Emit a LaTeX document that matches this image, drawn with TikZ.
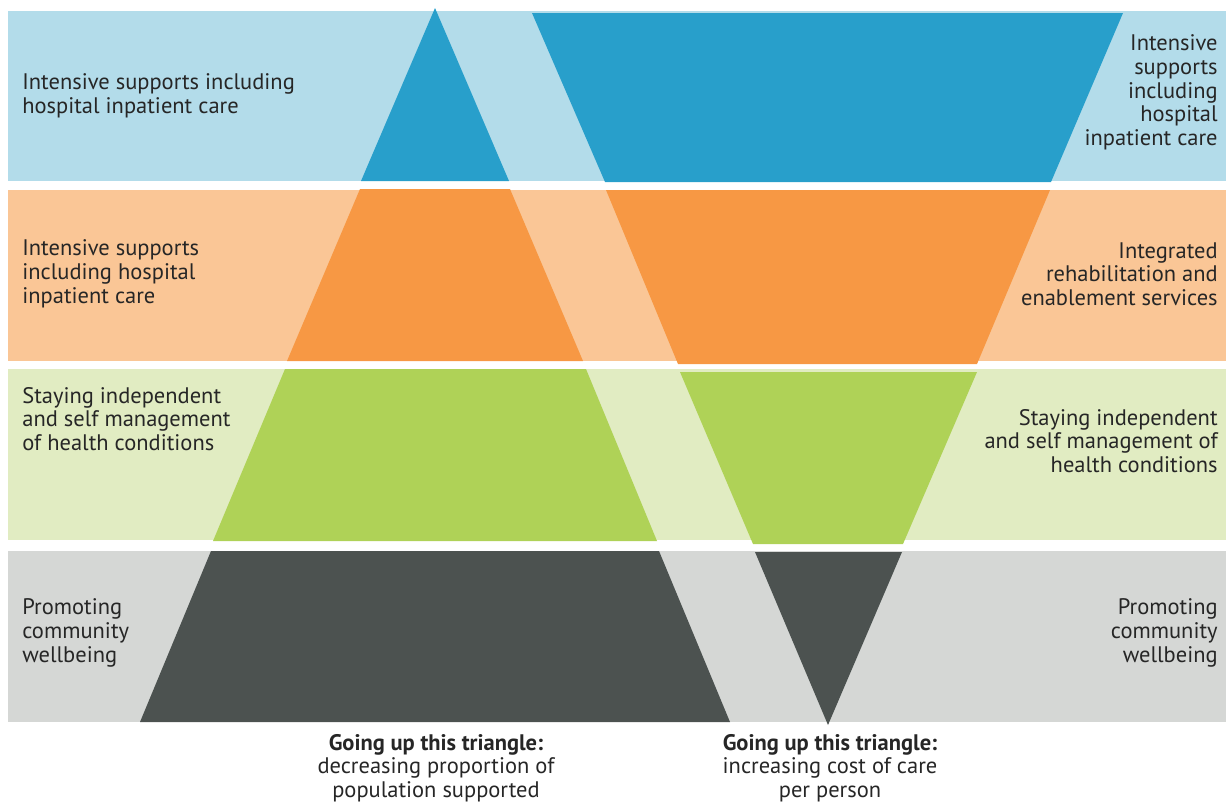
\documentclass[tikz,border=0pt]{standalone}
\usepackage{fontspec}
\setmainfont{PT Sans}
\usepackage{tikz}

\definecolor{paleblue}{HTML}{B3DCEA}
\definecolor{darkblue}{HTML}{289FCB}
\definecolor{paleorange}{HTML}{FAC696}
\definecolor{darkorange}{HTML}{F79844}
\definecolor{palegreen}{HTML}{E1ECC2}
\definecolor{darkgreen}{HTML}{AFD257}
\definecolor{palegrey}{HTML}{D5D7D5}
\definecolor{darkgrey}{HTML}{4C5250}
\definecolor{labeltext}{HTML}{262626}

\begin{document}
\begin{tikzpicture}[x=0.02cm,y=-0.02cm]
						\tikzstyle{every node}+=[inner sep=0pt, text=labeltext, font=\fontsize{12.8}{13.5}\selectfont]
						\tikzstyle{lefttext}=[right, align=left]
						\tikzstyle{righttext}=[left, align=right]
						\tikzstyle{captiontext}=[align=center]
						\useasboundingbox (0,0) rectangle (1226,805);
						% bands
						\fill [paleblue] (8,11) rectangle (1226,181);
						\fill [paleorange] (8,189.5) rectangle (1226,361);
						\fill [palegreen] (8,369) rectangle (1226,540);
						\fill [palegrey] (8,551) rectangle (1226,722);
						% upright triangle
						\fill [darkblue] (435,8) -- (509,181) -- (361,181) -- cycle;
						\fill [darkorange] (360,189) -- (510,189) -- (583,361) -- (287,361) -- cycle;
						\fill [darkgreen] (285,369) -- (586,369) -- (657,541) -- (213,541) -- cycle;
						\fill [darkgrey] (211,551) -- (659,551) -- (730,722) -- (140,722) -- cycle;
						% inverted triangle
						\fill [darkblue] (532,13) -- (1123,13) -- (1051,182) -- (605,182) -- cycle;
						\fill [darkorange] (606,190) -- (1050,190) -- (977,364) -- (678,364) -- cycle;
						\fill [darkgreen] (680,372) -- (977,372) -- (903,544) -- (753,544) -- cycle;
						\fill [darkgrey] (755,552) -- (902,552) -- (828,725) -- cycle;
						% left labels
						\draw (22,96) node (leftone) [lefttext] {Intensive supports including\\hospital inpatient care};
						\draw (22,274) node (lefttwo) [lefttext] {Intensive supports\\including hospital\\inpatient care};
						\draw (22,419) node (leftthree) [lefttext] {Staying independent\\and self management\\of health conditions};
						\draw (22,633) node (leftfour) [lefttext] {Promoting\\community\\wellbeing};
						% right labels
						\draw (1218,92.5) node (rightone) [righttext] {Intensive\\supports\\including\\hospital\\inpatient care};
						\draw (1218,274) node (righttwo) [righttext] {Integrated\\rehabilitation and\\enablement services};
						\draw (1218,441) node (rightthree) [righttext] {Staying independent\\and self management of\\health conditions};
						\draw (1218,633) node (rightfour) [righttext] {Promoting\\community\\wellbeing};
						% captions
						\draw (436,768) node (captionup) [captiontext] {\textbf{Going up this triangle:}\\decreasing proportion of\\population supported};
						\draw (830,768) node (captiondown) [captiontext] {\textbf{Going up this triangle:}\\increasing cost of care\\per person};
					\end{tikzpicture}
\end{document}
